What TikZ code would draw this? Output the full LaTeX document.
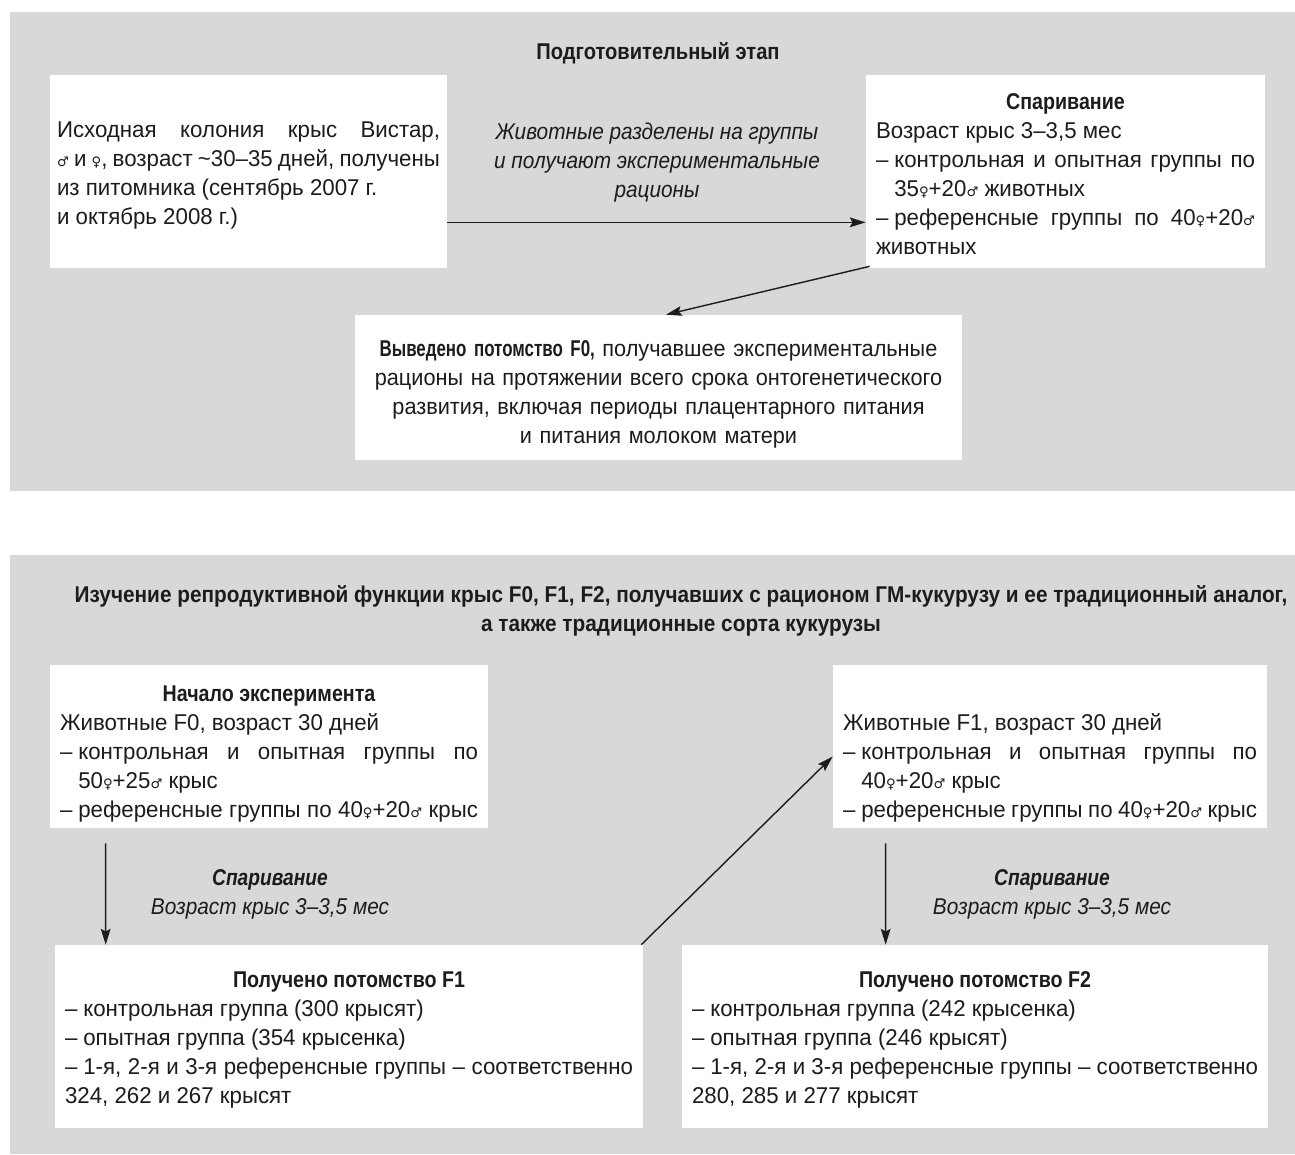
\documentclass[tikz,border=0pt]{standalone}
\usepackage{fontspec}
\setmainfont{Liberation Sans}[FakeStretch=0.975]
\newfontfamily\fboxttl{Liberation Sans}[FakeStretch=0.86]
\newfontfamily\ftitle{Liberation Sans}[FakeStretch=0.91]
\newfontfamily\ftop{Liberation Sans}[FakeStretch=0.88]
\newfontfamily\fcbold{Liberation Sans}[FakeStretch=0.74]
\newfontfamily\fcreg{Liberation Sans}[FakeStretch=0.95]
\newfontfamily\fbi{Liberation Sans}[FakeStretch=0.84]
\newfontfamily\symf{DejaVu Sans}
\usetikzlibrary{arrows.meta}
\definecolor{panel}{HTML}{D8D8D8}
\definecolor{txt}{HTML}{1C1C1C}
\newcommand\fm{{\symf\fontsize{7.5}{9}\selectfont ♀}}
\newcommand\ml{{\symf\fontsize{7.5}{9}\selectfont ♂}}
\newcommand\ditem{\par\noindent\hangindent=0.8em\hangafter=1\makebox[0.8em][l]{–}\ignorespaces}
\newcommand\ctitle[1]{{\centering\fboxttl\bfseries #1\par}}
\newcommand\topgap[1]{\rule{0pt}{\dimexpr 10pt+#1\relax}}
\tikzset{
  box/.style={fill=white, inner xsep=0.2cm, inner ysep=0pt, align=justify, anchor=center, text=txt,
    font=\fontsize{13}{16.5}\selectfont},
  lbl/.style={align=center, text=txt, font=\fontsize{13}{16.5}\selectfont},
  arr/.style={-{Stealth[length=9pt,width=5.5pt,inset=1.5pt]}, line width=0.8pt, draw=txt},
}
\begin{document}
\begin{tikzpicture}[x=0.02cm,y=-0.02cm]
\useasboundingbox (0,0) rectangle (1295,1154);
\fill[panel] (10,12) rectangle (1295,491);
\fill[panel] (10,555) rectangle (1295,1154);

% top panel
\node[lbl, font=\fontsize{13}{16.5}\selectfont\ftop\bfseries] (t1) at (658,53) {Подготовительный этап};

\node[box, text width=7.66cm, inner xsep=0.14cm, minimum height=3.86cm] (boxA) at (248.5,171.5)
{\topgap{0.12cm}Исходная колония крыс Вистар,\linebreak {\spaceskip=0.22em plus 0.2em minus 0.06em \ml\ и \fm, возраст \mbox{\textasciitilde30–35} дней, получены}\linebreak из питомника (сентябрь 2007 г.\newline и октябрь 2008 г.)};

\node[box, text width=7.58cm, minimum height=3.86cm] (boxB) at (1065.5,171.5)
{\ctitle{\topgap{0.08cm}Спаривание}\noindent Возраст крыс 3–3,5 мес
\ditem контрольная и опытная группы по\linebreak 35\fm+20\ml\ животных
\ditem референсные группы по 40\fm+20\ml\linebreak животных};

\node[lbl, font=\fontsize{13}{16.5}\selectfont\ftitle\itshape] (lA) at (657,163)
{Животные разделены на группы\\ и получают экспериментальные\\ рационы};

\node[box, align=center, text width=11.74cm, minimum height=2.9cm, font=\fontsize{13}{16.5}\selectfont\fcreg] (boxC) at (658.5,387.5)
{\topgap{0.24cm}{\fcbold\bfseries Выведено потомство F0,} получавшее экспериментальные\\ рационы на протяжении всего срока онтогенетического\\ развития, включая периоды плацентарного питания\\ и питания молоком матери};

\draw[arr] ([yshift=0.92cm]boxA.south east) -- ([yshift=0.92cm]boxB.south west);
\draw[arr] ([xshift=0.08cm,yshift=0.04cm]boxB.south west) -- ([xshift=0.15cm]boxC.north);

% bottom panel
\node[lbl, font=\fontsize{13}{16.5}\selectfont\ftitle\bfseries] (t2) at (681,611)
{Изучение репродуктивной функции крыс F0, F1, F2, получавших с рационом ГМ-кукурузу и ее традиционный аналог,\\ а также традиционные сорта кукурузы};

\node[box, text width=8.36cm, minimum height=3.26cm] (boxD) at (269,746.5)
{\ctitle{\topgap{0.28cm}Начало эксперимента}\noindent Животные F0, возраст 30 дней
\ditem контрольная и опытная группы по\linebreak 50\fm+25\ml\ крыс
\ditem референсные группы по 40\fm+20\ml\ крыс\parfillskip=0pt\par};

\node[box, text width=8.28cm, minimum height=3.26cm] (boxE) at (1050,746.5)
{\noindent\topgap{0.28cm}\par\noindent Животные F1, возраст 30 дней
\ditem контрольная и опытная группы по\linebreak 40\fm+20\ml\ крыс
\ditem референсные группы по 40\fm+20\ml\ крыс\parfillskip=0pt\par};

\node[box, text width=11.36cm, minimum height=3.66cm] (boxF) at (349,1036.5)
{\ctitle{\topgap{0.12cm}Получено потомство F1}
\ditem контрольная группа (300 крысят)
\ditem опытная группа (354 крысенка)
\ditem 1-я, 2-я и 3-я референсные группы – соответственно\linebreak 324, 262 и 267 крысят};

\node[box, text width=11.32cm, minimum height=3.66cm] (boxG) at (975,1036.5)
{\ctitle{\topgap{0.12cm}Получено потомство F2}
\ditem контрольная группа (242 крысенка)
\ditem опытная группа (246 крысят)
\ditem 1-я, 2-я и 3-я референсные группы – соответственно\linebreak 280, 285 и 277 крысят};

\node[lbl] (lD) at (270,894) {{\fbi\bfseries\itshape Спаривание}\\ {\ftitle\itshape Возраст крыс 3–3,5 мес}};
\node[lbl] (lE) at (1052,894) {{\fbi\bfseries\itshape Спаривание}\\ {\ftitle\itshape Возраст крыс 3–3,5 мес}};

\draw[arr, shorten <=0.3cm] ([xshift=1.12cm]boxD.south west) -- ([xshift=1.02cm]boxF.north west);
\draw[arr, shorten <=0.3cm] ([xshift=1.06cm]boxE.south west) -- ([xshift=4.08cm]boxG.north west);
\draw[arr] ([xshift=-0.04cm]boxF.north east) -- ([yshift=-0.2cm]boxE.west);
\end{tikzpicture}
\end{document}
